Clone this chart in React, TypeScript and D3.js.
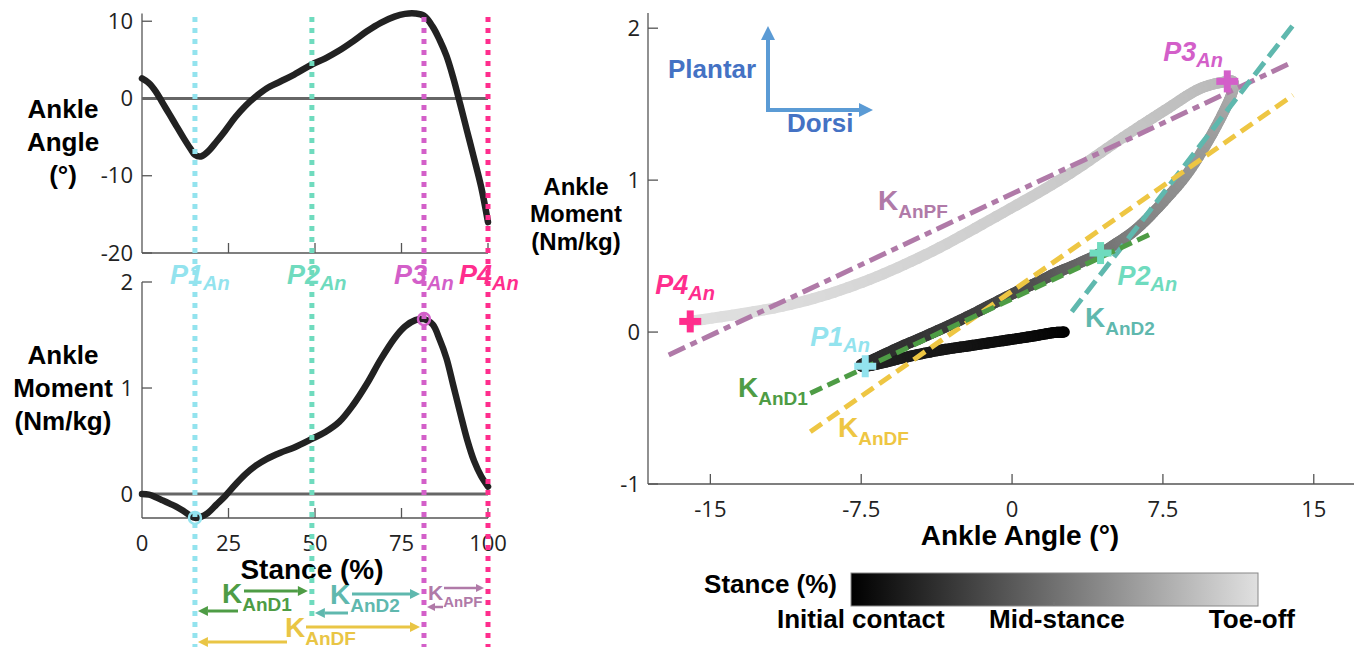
import React from 'react';
import * as d3 from 'd3';

// ---------------- DATA ----------------
const stance = [0, 2, 4, 6, 8, 10, 12, 14, 15.3, 17, 19, 21.5, 24, 27, 30, 33, 36, 40, 44, 49.1, 53, 57, 61, 65, 69, 73, 76, 79, 81.5, 84, 86, 88, 90, 92, 94, 96, 98, 100];
const ankleAngle = [2.6, 2.0, 0.9, -0.6, -2.1, -3.6, -5.1, -6.5, -7.3, -7.5, -6.9, -5.6, -4.2, -2.4, -0.9, 0.3, 1.3, 2.2, 3.1, 4.4, 5.2, 6.2, 7.4, 8.7, 9.8, 10.6, 10.95, 11.0, 10.7, 9.3, 7.6, 5.5, 2.6, -0.8, -4.3, -7.8, -11.4, -16];
const ankleMoment = [0, -0.005, -0.03, -0.06, -0.09, -0.12, -0.16, -0.205, -0.225, -0.215, -0.18, -0.1, -0.02, 0.09, 0.19, 0.27, 0.33, 0.39, 0.44, 0.52, 0.585, 0.68, 0.84, 1.04, 1.27, 1.47, 1.58, 1.64, 1.65, 1.6, 1.46, 1.28, 1.02, 0.76, 0.51, 0.31, 0.17, 0.07];

const eventNames = ['P1', 'P2', 'P3', 'P4'];
const eventStance = [15.3, 49.1, 81.5, 100];
const eventAngle = [-7.3, 4.4, 10.7, -16];
const eventMoment = [-0.225, 0.52, 1.65, 0.07];
const eventColors = ['#93e3ee', '#6fdbbe', '#d35fc9', '#ff2e8d'];

const angleTicks = [10, 0, -10, -20];
const momentTicks = [2, 1, 0];
const stanceTicks = [0, 25, 50, 75, 100];
const loopXTicks = [-15, -7.5, 0, 7.5, 15];
const loopYTicks = [2, 1, 0, -1];

const stiffNames = ['AnPF', 'AnD2', 'AnDF', 'AnD1'];
const stiffColors = ['#b07aa8', '#5fb8ae', '#eec643', '#4e9c45'];
const stiffAngle1 = [-17.07, 2.97, -10.03, -10.03];
const stiffMoment1 = [-0.151, 0.134, -0.656, -0.403];
const stiffAngle2 = [13.97, 13.97, 13.97, 6.94];
const stiffMoment2 = [1.778, 2.02, 1.559, 0.649];
const stiffDash = ['18 6 7 6', '16 7', '14 7', '13 6'];

// phases shown as arrows below the stance axis: start event index, end event index
const phaseNames = ['AnD1', 'AnD2', 'AnPF', 'AnDF'];
const phaseColors = ['#4e9c45', '#5fb8ae', '#b07aa8', '#e9c545'];
const phaseStartEvent = [0, 1, 2, 0];
const phaseEndEvent = [1, 2, 3, 2];

// ---------------- LAYOUT ----------------
const W = 1362, H = 649;
const xL = d3.scaleLinear().domain([0, 100]).range([142, 488]);
const yA = d3.scaleLinear().domain([-20, 11]).range([253, 13.5]);
const yM = d3.scaleLinear().domain([-0.226, 2]).range([518, 282]);
const xR = d3.scaleLinear().domain([-18.1, 17]).range([648, 1354]);
const yR = d3.scaleLinear().domain([-1, 2.1]).range([484, 13]);

const gray = d3.scaleLinear<string>().domain([0, 100]).range(['#000000', '#e0e0e0']).interpolate(d3.interpolateRgb);

const tickFont = "'Open Sans', 'DejaVu Sans', sans-serif";
const boldFont = "'Liberation Sans', Arial, sans-serif";
const axisColor = '#555';

// annotation layout (pixels)
const phaseLayout = [
  { kx: 222, base: 603, ks: 28, ss: 19, rY: 591, lY: 611, rX0: 244, lX0: 238 },
  { kx: 330, base: 604, ks: 28, ss: 19, rY: 594, lY: 613, rX0: 352, lX0: 348 },
  { kx: 428, base: 600, ks: 21, ss: 15, rY: 588, lY: 607, rX0: 444, lX0: 443 },
  { kx: 285, base: 637, ks: 28, ss: 19, rY: 627, lY: 642, rX0: 306, lX0: 287 },
];
const leftEventLabelDx = [-25, -25, -30, -29];
const eventLineBottom = [647, 617, 647, 647];
const rightEventLabelOffset = [[-55, -20], [17, 32], [-64, -20], [-35, -27]];
const stiffLabelPos = [[878, 210], [1085, 327], [838, 437], [738, 397]];

function catmull(p0: number[], p1: number[], p2: number[], p3: number[], t: number) {
  const t2 = t * t, t3 = t2 * t;
  const f = (a: number, b: number, c: number, d: number) =>
    0.5 * (2 * b + (-a + c) * t + (2 * a - 5 * b + 4 * c - d) * t2 + (-a + 3 * b - 3 * c + d) * t3);
  return [f(p0[0], p1[0], p2[0], p3[0]), f(p0[1], p1[1], p2[1], p3[1])];
}

function Arrow({ x1, x2, y, color, w = 3, hl = 10, hw = 5 }: any) {
  const dir = x2 > x1 ? 1 : -1;
  const xb = x2 - dir * hl;
  return (
    <g>
      <line x1={x1} y1={y} x2={xb} y2={y} stroke={color} strokeWidth={w} />
      <path d={`M${x2},${y} L${xb},${y - hw} L${xb},${y + hw} Z`} fill={color} />
    </g>
  );
}

function Sub({ x, y, main, sub, color, ms, ss, dy, font, italic, weight }: any) {
  return (
    <text x={x} y={y} fill={color} fontFamily={font} fontWeight={weight} fontStyle={italic ? 'italic' : 'normal'} fontSize={ms}>
      <tspan>{main}</tspan>
      <tspan fontSize={ss} dy={dy}>{sub}</tspan>
    </text>
  );
}

export default function App() {
  React.useEffect(() => {
    document.body.style.margin = '0';
    document.body.style.overflow = 'hidden';
  }, []);

  const angleLine = d3.line<number>().x((_, i) => xL(stance[i])).y((d) => yA(d)).curve(d3.curveCatmullRom.alpha(0.5));
  const momentLine = d3.line<number>().x((_, i) => xL(stance[i])).y((d) => yM(d)).curve(d3.curveCatmullRom.alpha(0.5));

  // gradient loop segments
  const n = stance.length;
  const pts = stance.map((s, i) => [xR(ankleAngle[i]), yR(ankleMoment[i]), s]);
  const segs: any[] = [];
  for (let i = 0; i < n - 1; i++) {
    const p0 = pts[Math.max(i - 1, 0)], p1 = pts[i], p2 = pts[i + 1], p3 = pts[Math.min(i + 2, n - 1)];
    const steps = 10;
    let prev = [p1[0], p1[1]];
    for (let k = 1; k <= steps; k++) {
      const t = k / steps;
      const p = catmull(p0, p1, p2, p3, t);
      const s = p1[2] + (p2[2] - p1[2]) * (t - 0.5 / steps);
      segs.push({ x1: prev[0], y1: prev[1], x2: p[0], y2: p[1], c: gray(s) });
      prev = p;
    }
  }

  return (
    <svg width={W} height={H} style={{ position: 'absolute', left: 0, top: 0, display: 'block', background: '#fff' }}>
      <defs>
        <linearGradient id="cbar" x1="0" x2="1" y1="0" y2="0">
          <stop offset="0" stopColor="#000" />
          <stop offset="1" stopColor="#e0e0e0" />
        </linearGradient>
      </defs>

      {/* ============ LEFT TOP: angle vs stance ============ */}
      <line x1={142} x2={142} y1={yA.range()[1]} y2={yA.range()[0]} stroke={axisColor} strokeWidth={1.3} />
      <line x1={142} x2={488} y1={253} y2={253} stroke={axisColor} strokeWidth={1.3} />
      {angleTicks.map((t) => (
        <g key={'at' + t}>
          <line x1={142} x2={152} y1={yA(t)} y2={yA(t)} stroke={axisColor} strokeWidth={1.3} />
          <text x={133} y={yA(t)} dy="0.35em" textAnchor="end" fontFamily={tickFont} fontSize={22} fill="#222">{t}</text>
        </g>
      ))}
      {stanceTicks.slice(1).map((t) => (
        <line key={'st1' + t} x1={xL(t)} x2={xL(t)} y1={253} y2={243} stroke={axisColor} strokeWidth={1.3} />
      ))}
      <line x1={xL(0)} x2={xL(100)} y1={yA(0)} y2={yA(0)} stroke="#666" strokeWidth={3} />
      <path d={angleLine(ankleAngle) || ''} fill="none" stroke="#222" strokeWidth={6.5} strokeLinecap="round" />
      <text fontFamily={boldFont} fontWeight="bold" fontSize={26} fill="#000" textAnchor="middle">
        <tspan x={63} y={118}>Ankle</tspan>
        <tspan x={63} y={151}>Angle</tspan>
        <tspan x={63} y={184}>(°)</tspan>
      </text>

      {/* ============ LEFT BOTTOM: moment vs stance ============ */}
      <line x1={142} x2={142} y1={282} y2={518} stroke={axisColor} strokeWidth={1.3} />
      <line x1={142} x2={488} y1={518} y2={518} stroke={axisColor} strokeWidth={1.3} />
      {momentTicks.map((t) => (
        <g key={'mt' + t}>
          <line x1={142} x2={152} y1={yM(t)} y2={yM(t)} stroke={axisColor} strokeWidth={1.3} />
          <text x={133} y={yM(t)} dy="0.35em" textAnchor="end" fontFamily={tickFont} fontSize={22} fill="#222">{t}</text>
        </g>
      ))}
      {stanceTicks.map((t) => (
        <g key={'st2' + t}>
          {t > 0 && <line x1={xL(t)} x2={xL(t)} y1={518} y2={508} stroke={axisColor} strokeWidth={1.3} />}
          <text x={xL(t)} y={551} textAnchor="middle" fontFamily={tickFont} fontSize={22} fill="#222">{t}</text>
        </g>
      ))}
      <line x1={xL(0)} x2={xL(100)} y1={yM(0)} y2={yM(0)} stroke="#666" strokeWidth={3} />
      <path d={momentLine(ankleMoment) || ''} fill="none" stroke="#222" strokeWidth={6.5} strokeLinecap="round" />
      <text fontFamily={boldFont} fontWeight="bold" fontSize={26} fill="#000" textAnchor="middle">
        <tspan x={63} y={364}>Ankle</tspan>
        <tspan x={63} y={397}>Moment</tspan>
        <tspan x={63} y={430}>(Nm/kg)</tspan>
      </text>
      <text x={312} y={579} textAnchor="middle" fontFamily={boldFont} fontWeight="bold" fontSize={28} fill="#000">Stance (%)</text>

      {/* event dotted lines */}
      {eventStance.map((s, i) => (
        <line key={'ev' + i} x1={xL(s)} x2={xL(s)} y1={17} y2={eventLineBottom[i]} stroke={eventColors[i]} strokeWidth={5} strokeDasharray="5 6" />
      ))}
      {/* circles at P1 and P3 on moment curve */}
      {[0, 2].map((i) => (
        <circle key={'c' + i} cx={xL(eventStance[i])} cy={yM(eventMoment[i])} r={6} fill="none" stroke={eventColors[i]} strokeWidth={2.5} />
      ))}
      {/* event labels left */}
      {eventNames.map((nm, i) => (
        <Sub key={'el' + i} x={xL(eventStance[i]) + leftEventLabelDx[i]} y={284} main={nm} sub="An" color={eventColors[i]}
          ms={27} ss={20} dy={6} font={boldFont} italic weight="bold" />
      ))}

      {/* phase arrows */}
      {phaseNames.map((nm, i) => {
        const L = phaseLayout[i];
        const c = phaseColors[i];
        const big = L.ks > 25;
        return (
          <g key={'ph' + i}>
            <Arrow x1={L.rX0} x2={xL(eventStance[phaseEndEvent[i]]) - 4} y={L.rY} color={c} w={big ? 3 : 2.5} hl={big ? 10 : 8} hw={big ? 5 : 4} />
            <Arrow x1={L.lX0} x2={xL(eventStance[phaseStartEvent[i]]) + 3} y={L.lY} color={c} w={big ? 3 : 2.5} hl={big ? 10 : 8} hw={big ? 5 : 4} />
            <Sub x={L.kx} y={L.base} main="K" sub={nm} color={c} ms={L.ks} ss={L.ss} dy={big ? 8 : 7} font={boldFont} weight="bold" />
          </g>
        );
      })}

      {/* ============ RIGHT: moment vs angle loop ============ */}
      <line x1={648} x2={648} y1={13} y2={484} stroke={axisColor} strokeWidth={1.3} />
      <line x1={648} x2={1354} y1={484} y2={484} stroke={axisColor} strokeWidth={1.3} />
      {loopYTicks.map((t) => (
        <g key={'ry' + t}>
          <line x1={648} x2={658} y1={yR(t)} y2={yR(t)} stroke={axisColor} strokeWidth={1.3} />
          <text x={640} y={yR(t)} dy="0.35em" textAnchor="end" fontFamily={tickFont} fontSize={22} fill="#222">{t}</text>
        </g>
      ))}
      {loopXTicks.map((t) => (
        <g key={'rx' + t}>
          <line x1={xR(t)} x2={xR(t)} y1={484} y2={474} stroke={axisColor} strokeWidth={1.3} />
          <text x={xR(t)} y={517} textAnchor="middle" fontFamily={tickFont} fontSize={22} fill="#222">{t}</text>
        </g>
      ))}
      <text x={1020} y={545} textAnchor="middle" fontFamily={boldFont} fontWeight="bold" fontSize={28} fill="#000">Ankle Angle (°)</text>
      <text fontFamily={boldFont} fontWeight="bold" fontSize={24} fill="#000" textAnchor="middle">
        <tspan x={576} y={195}>Ankle</tspan>
        <tspan x={576} y={222}>Moment</tspan>
        <tspan x={576} y={250}>(Nm/kg)</tspan>
      </text>

      {/* Plantar / Dorsi direction arrows */}
      <line x1={768} y1={112} x2={768} y2={38} stroke="#5b9bd5" strokeWidth={4} />
      <path d="M768,26 L761,40 L775,40 Z" fill="#5b9bd5" />
      <line x1={766} y1={110} x2={860} y2={110} stroke="#5b9bd5" strokeWidth={4} />
      <path d="M873,110 L859,103 L859,117 Z" fill="#5b9bd5" />
      <text x={668} y={78} fontFamily={boldFont} fontWeight="bold" fontSize={26} fill="#4472c4">Plantar</text>
      <text x={787} y={132} fontFamily={boldFont} fontWeight="bold" fontSize={26} fill="#4472c4">Dorsi</text>

      {/* loop */}
      {segs.map((s, i) => (
        <line key={'sg' + i} x1={s.x1} y1={s.y1} x2={s.x2} y2={s.y2} stroke={s.c} strokeWidth={11} strokeLinecap="round" />
      ))}

      {/* stiffness lines */}
      {stiffNames.map((nm, i) => (
        <line key={'sl' + i} x1={xR(stiffAngle1[i])} y1={yR(stiffMoment1[i])} x2={xR(stiffAngle2[i])} y2={yR(stiffMoment2[i])}
          stroke={stiffColors[i]} strokeWidth={5} strokeDasharray={stiffDash[i]} />
      ))}
      {stiffNames.map((nm, i) => (
        <Sub key={'slab' + i} x={stiffLabelPos[i][0]} y={stiffLabelPos[i][1]} main="K" sub={nm} color={stiffColors[i]}
          ms={28} ss={19} dy={8} font={boldFont} weight="bold" />
      ))}

      {/* event crosses */}
      {eventNames.map((nm, i) => {
        const cx = xR(eventAngle[i]), cy = yR(eventMoment[i]);
        return (
          <g key={'cr' + i}>
            <line x1={cx - 11} x2={cx + 11} y1={cy} y2={cy} stroke={eventColors[i]} strokeWidth={7} />
            <line x1={cx} x2={cx} y1={cy - 11} y2={cy + 11} stroke={eventColors[i]} strokeWidth={7} />
            <Sub x={cx + rightEventLabelOffset[i][0]} y={cy + rightEventLabelOffset[i][1]} main={nm} sub="An" color={eventColors[i]}
              ms={27} ss={20} dy={6} font={boldFont} italic weight="bold" />
          </g>
        );
      })}

      {/* colorbar */}
      <rect x={851} y={573} width={407} height={33} fill="url(#cbar)" stroke="#888" strokeWidth={1} />
      <line x1={1054} x2={1054} y1={606} y2={602} stroke="#777" strokeWidth={1} />
      <text x={837} y={593} textAnchor="end" fontFamily={boldFont} fontWeight="bold" fontSize={26} fill="#000">Stance (%)</text>
      <text x={777} y={628} fontFamily={boldFont} fontWeight="bold" fontSize={26} fill="#000">Initial contact</text>
      <text x={989} y={628} fontFamily={boldFont} fontWeight="bold" fontSize={26} fill="#000">Mid-stance</text>
      <text x={1295} y={628} textAnchor="end" fontFamily={boldFont} fontWeight="bold" fontSize={26} fill="#000">Toe-off</text>
    </svg>
  );
}
